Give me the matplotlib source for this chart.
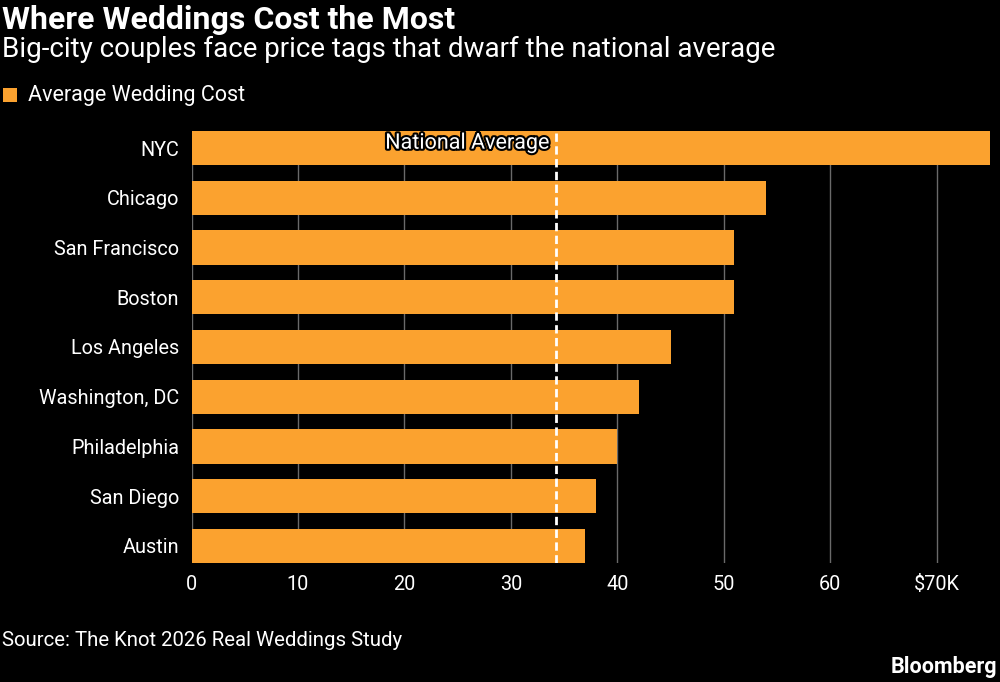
import matplotlib
matplotlib.use("Agg")
import matplotlib.pyplot as plt
import matplotlib.patheffects as pe
from matplotlib.patches import Rectangle

cities = ["NYC", "Chicago", "San Francisco", "Boston", "Los Angeles",
          "Washington, DC", "Philadelphia", "San Diego", "Austin"]
costs = [75, 54, 51, 51, 45, 42, 40, 38, 37]  # $K
national_average = 34.2
xticks = [0, 10, 20, 30, 40, 50, 60, 70]
xticklabels = ["0", "10", "20", "30", "40", "50", "60", "$70K"]

BG = "#000000"
ORANGE = "#FBA22F"
FONT = ["Roboto", "DejaVu Sans"]
plt.rcParams['font.family'] = FONT

fig = plt.figure(figsize=(10, 6.82), dpi=100, facecolor=BG)
top_px, bot_px = 131, 563
ax = fig.add_axes([0.1915, 1 - bot_px/682, 0.990 - 0.1915, (bot_px - top_px)/682])
ax.set_facecolor(BG)

h = 0.69
y = list(range(len(cities)))
ax.barh(y, costs, height=h, color=ORANGE, zorder=2)
ax.set_ylim(len(cities) - 1 + h/2, -h/2)
ax.set_xlim(0, 75)
ax.set_yticks(y)
ax.set_yticklabels(cities, color="white", fontsize=14.3)
ax.set_xticks(xticks)
ax.set_xticklabels(xticklabels, color="white", fontsize=14.3)
ax.tick_params(axis="both", length=0)
ax.tick_params(axis="x", pad=9)
ax.tick_params(axis="y", pad=9)
for s in ax.spines.values():
    s.set_visible(False)
ax.grid(axis="x", color="#6a6a6a", linewidth=1, zorder=1)
ax.set_axisbelow(True)

ax.axvline(national_average, color="white", linestyle=(0, (3, 1.6)), linewidth=2, zorder=3)
ax.text(national_average - 0.6, 0 - 0.1, "National Average", color="white", fontsize=15.5,
        ha="right", va="center", zorder=4,
        path_effects=[pe.withStroke(linewidth=3, foreground="black")])

fig.text(0.002, 0.993, "Where Weddings Cost the Most", color="white", fontsize=23,
         fontweight="bold", va="top", ha="left")
fig.text(0.002, 0.947, "Big-city couples face price tags that dwarf the national average",
         color="white", fontsize=20, va="top", ha="left")
fig.patches.append(Rectangle((0.003, 1 - 102/682), 0.014, 0.021, transform=fig.transFigure,
                             facecolor=ORANGE, edgecolor="none"))
fig.text(0.028, 1 - 95/682, "Average Wedding Cost", color="white", fontsize=15.5,
         va="center", ha="left")
fig.text(0.002, 1 - 641/682, "Source: The Knot 2026 Real Weddings Study", color="white",
         fontsize=14.7, va="center", ha="left")
fig.text(0.997, 1 - 667/682, "Bloomberg", color="white", fontsize=15.5, fontweight="bold",
         va="center", ha="right")

fig.savefig("out.png", dpi=100, facecolor=BG)
